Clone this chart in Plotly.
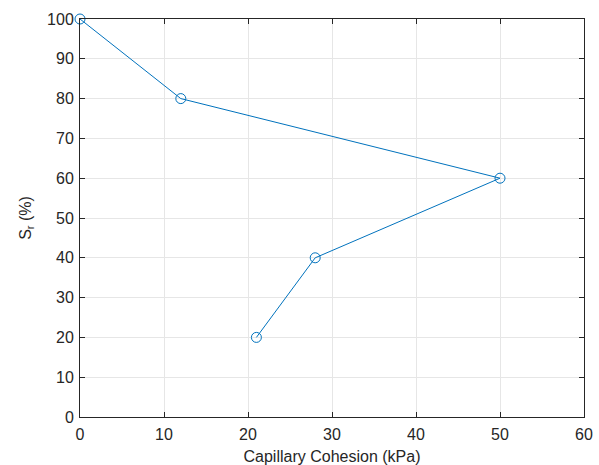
import plotly.graph_objects as go

cohesion = [0, 12, 50, 28, 21]
saturation = [100, 80, 60, 40, 20]
x_ticks = [0, 10, 20, 30, 40, 50, 60]
y_ticks = [0, 10, 20, 30, 40, 50, 60, 70, 80, 90, 100]

FONT = "Liberation Sans, Arial"
fig = go.Figure()
fig.add_trace(go.Scatter(
    x=cohesion, y=saturation, mode="lines+markers",
    line=dict(color="#0072BD", width=1),
    marker=dict(symbol="circle-open", size=10, color="#0072BD", line=dict(width=1)),
    cliponaxis=False,
))

axis_common = dict(
    showline=True, linecolor="#262626", linewidth=1, mirror="ticks",
    ticks="inside", ticklen=5, tickcolor="#262626",
    showgrid=True, gridcolor="#e6e6e6", gridwidth=1,
    zeroline=False, automargin=False,
    tickfont=dict(family=FONT, size=16, color="#262626"),
)

fig.update_xaxes(range=[0, 60], tickvals=x_ticks, ticklabelstandoff=3, **axis_common,
                 title=dict(text="Capillary Cohesion (kPa)", standoff=8,
                            font=dict(family=FONT, size=16, color="#262626")))
fig.update_yaxes(range=[0, 100], tickvals=y_ticks, ticklabelstandoff=2, **axis_common,
                 title=dict(text="S<sub>r</sub> (%)", standoff=11,
                            font=dict(family=FONT, size=16, color="#262626")))

fig.update_layout(
    width=599, height=465,
    margin=dict(l=80, r=15, t=19, b=48),
    paper_bgcolor="white", plot_bgcolor="white",
    showlegend=False,
)
fig.write_html("out.html")
